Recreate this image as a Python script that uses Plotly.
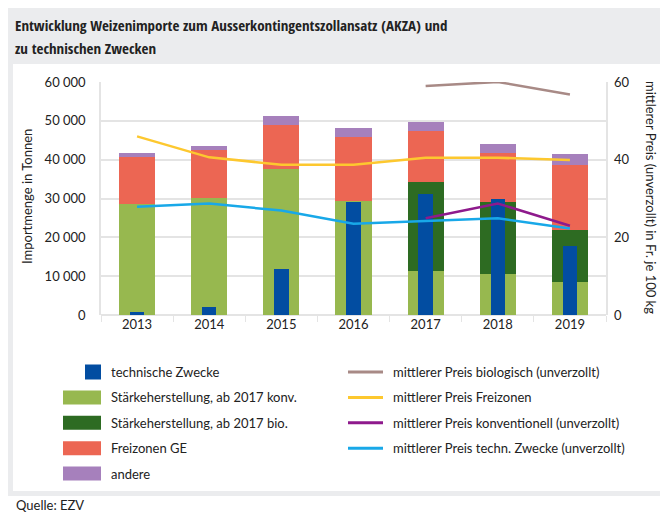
import plotly.graph_objects as go

years = ['2013', '2014', '2015', '2016', '2017', '2018', '2019']

# Importmengen in Tonnen
techn_zwecke = [800, 2000, 11800, 29000, 31200, 29800, 17800]
staerke_konv = [28600, 30200, 37600, 29300, 11400, 10600, 8400]
staerke_bio = [0, 0, 0, 0, 22900, 18400, 13400]
freizonen = [12000, 12300, 11300, 16600, 13000, 12700, 16700]
andere = [1200, 1100, 2300, 2200, 2400, 2400, 2900]

# mittlere Preise in Fr. je 100 kg
preis_bio = [None, None, None, None, 59.0, 60.0, 56.8]
preis_freizonen = [46.0, 40.6, 38.7, 38.7, 40.5, 40.5, 39.9]
preis_konv = [None, None, None, None, 24.9, 28.7, 23.0]
preis_techn = [27.9, 28.7, 26.9, 23.5, 24.2, 24.9, 22.3]

FONT = 'Lato'
TITLE_FONT = 'Open Sans Condensed, Roboto Condensed, Noto Sans Condensed, Lato'
TXT = '#222222'
GRID = '#e4e4e4'
W, H = 668, 514

# pixel -> paper (margins are 0, so paper == whole figure)
def fx(x):
    return x / W
def fy(y):
    return 1 - y / H

fig = go.Figure()

bars = [
    ('technische Zwecke', techn_zwecke, '#024da1'),
    ('Stärkeherstellung, ab 2017 konv.', staerke_konv, '#97b84f'),
    ('Stärkeherstellung, ab 2017 bio.', staerke_bio, '#2d6b22'),
    ('Freizonen GE', freizonen, '#ec6653'),
    ('andere', andere, '#a680bc'),
]
lines = [
    ('mittlerer Preis biologisch (unverzollt)', preis_bio, '#a88a86'),
    ('mittlerer Preis Freizonen', preis_freizonen, '#fdc82f'),
    ('mittlerer Preis konventionell (unverzollt)', preis_konv, '#8e1a8c'),
    ('mittlerer Preis techn. Zwecke (unverzollt)', preis_techn, '#18a8e8'),
]

# stacked bars on x/y, technical purposes as narrow bar on overlaid y2
for i, (nm, vals, col) in enumerate(bars):
    if i == 0:
        fig.add_trace(go.Bar(x=years, y=vals, name=nm, marker=dict(color=col, line_width=0),
                             width=0.2, yaxis='y2'))
    else:
        fig.add_trace(go.Bar(x=years, y=vals, name=nm, marker=dict(color=col, line_width=0), width=0.5))
for nm, vals, col in lines:
    fig.add_trace(go.Scatter(x=years, y=vals, name=nm, mode='lines', line=dict(color=col, width=2.5),
                             yaxis='y3', cliponaxis=False))

shapes = [
    dict(type='rect', xref='paper', yref='paper', x0=fx(5), x1=fx(663), y0=fy(483), y1=fy(56),
         fillcolor='white', line_width=0, layer='below'),
    dict(type='rect', xref='paper', yref='paper', x0=0, x1=1, y0=0, y1=fy(488),
         fillcolor='white', line_width=0, layer='below'),
]

def note(text, x, y, size=13, family=FONT, **kw):
    return dict(text=text, xref='paper', yref='paper', x=fx(x), y=fy(y), showarrow=False,
                font=dict(family=family, size=size, color=TXT), **kw)

annotations = [
    note('<b>Entwicklung Weizenimporte zum Ausserkontingentszollansatz (AKZA) und</b>', 5, 17, 15, TITLE_FONT,
         xanchor='left', yanchor='middle'),
    note('<b>zu technischen Zwecken</b>', 5, 40, 15, TITLE_FONT, xanchor='left', yanchor='middle'),
    note('Importmenge in Tonnen', 19, 189, textangle=-90, xanchor='center', yanchor='middle'),
    note('mittlerer Preis (unverzollt) in Fr. je 100 kg', 643, 189, textangle=90, xanchor='center', yanchor='middle'),
    note('Quelle: EZV', 6, 497, xanchor='left', yanchor='middle'),
]

# legend drawn by hand: two columns as in the original
row0, step = 364, 25.4
for i, (nm, _, col) in enumerate(bars):
    yc = row0 + i * step
    x0 = 77 if i == 0 else 55
    hh = 7.5 if i == 0 else 7
    shapes.append(dict(type='rect', xref='paper', yref='paper', x0=fx(x0), x1=fx(93), y0=fy(yc + hh), y1=fy(yc - hh),
                       fillcolor=col, line_width=0))
    annotations.append(note(nm, 101, yc, xanchor='left', yanchor='middle'))
for i, (nm, _, col) in enumerate(lines):
    yc = row0 + i * step
    shapes.append(dict(type='line', xref='paper', yref='paper', x0=fx(340), x1=fx(375), y0=fy(yc), y1=fy(yc),
                       line=dict(color=col, width=3)))
    annotations.append(note(nm, 383, yc, xanchor='left', yanchor='middle'))

# plot area: x 93..598, y 74..307 px
fig.update_layout(
    width=W, height=H,
    margin=dict(l=0, r=0, t=0, b=0, autoexpand=False),
    paper_bgcolor='#ebecee', plot_bgcolor='white',
    barmode='stack', separators='. ', showlegend=False,
    font=dict(family=FONT, size=13, color=TXT),
    shapes=shapes, annotations=annotations,
    xaxis=dict(domain=[fx(93), fx(598)], type='category', tickson='boundaries', ticks='outside', ticklen=6,
               tickcolor=GRID, showline=False, showgrid=False, tickfont=dict(size=13)),
    yaxis=dict(domain=[fy(307), fy(74)], range=[0, 60000], dtick=10000, tickformat=',d', gridcolor=GRID,
               gridwidth=1.5, showline=True, linecolor=GRID, linewidth=1.5, mirror=True, zeroline=True,
               zerolinecolor=GRID, zerolinewidth=2, ticks='', ticklabelstandoff=11),
    yaxis2=dict(range=[0, 60000], overlaying='y', visible=False),
    yaxis3=dict(range=[0, 60], dtick=20, overlaying='y', side='right', showgrid=False, zeroline=False,
                showline=False, ticks='', ticklabelstandoff=7),
)

fig.write_html('out.html')
